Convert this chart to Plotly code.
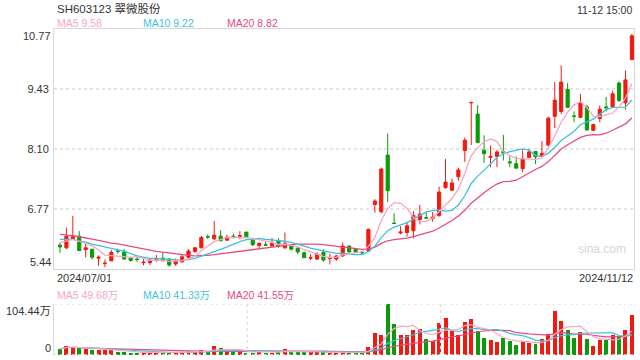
import plotly.graph_objects as go
import pandas as pd

# ---------------- data ----------------
title_text = "SH603123 翠微股份"
timestamp_text = "11-12 15:00"
date_labels = ["2024/07/01", "2024/11/12"]
price_tick_vals = [10.77, 9.43, 8.10, 6.77, 5.44]
vol_tick_vals = [104.44, 0]
vol_tick_text = ["104.44万", "0"]
ma_price_labels = ["MA5 9.58", "MA10 9.22", "MA20 8.82"]
ma_vol_labels = ["MA5 49.68万", "MA10 41.33万", "MA20 41.55万"]
watermark = "sina.com"

# closes of the 19 sessions before 2024/07/01 (estimated from the MA levels at the left edge)
prior_closes = [6.40, 6.45, 6.38, 6.30, 6.35, 6.28, 6.25, 6.30, 6.22, 6.27,
                6.20, 6.15, 6.22, 6.12, 6.16, 5.97, 6.01, 6.05, 6.17]

opens = [5.97, 5.91, 6.11, 6.17, 5.87, 5.88, 5.68, 5.56, 5.62, 5.84,
         5.82, 5.68, 5.66, 5.58, 5.58, 5.65, 5.68, 5.66, 5.55, 5.60,
         5.70, 5.83, 5.91, 6.16, 6.11, 6.17, 6.08, 6.17, 6.16, 6.26,
         6.08, 5.96, 5.98, 5.95, 6.07, 5.91, 5.97, 5.90, 5.80, 5.68,
         5.66, 5.81, 5.67, 5.66, 5.73, 5.95, 5.88, 5.81, 5.84, 6.87,
         6.71, 7.97, 6.46, 6.24, 6.25, 6.29, 6.54, 6.58, 6.56, 6.63,
         7.25, 7.19, 7.49, 8.07, 9.13, 8.88, 8.08, 7.92, 7.94, 8.05,
         7.82, 7.78, 7.67, 7.92, 8.05, 7.94, 8.19, 8.83, 8.94, 9.43,
         8.84, 8.81, 9.04, 8.52, 8.78, 9.04, 9.04, 9.57, 9.13, 10.09]
highs = [6.02, 6.36, 6.62, 6.28, 6.00, 5.88, 5.74, 5.65, 5.86, 5.89,
         5.88, 5.71, 5.71, 5.66, 5.68, 5.75, 5.81, 5.69, 5.67, 5.77,
         5.88, 5.93, 6.17, 6.21, 6.51, 6.30, 6.20, 6.22, 6.28, 6.26,
         6.11, 6.03, 6.05, 6.13, 6.12, 6.25, 6.00, 5.95, 5.83, 5.77,
         5.81, 5.88, 5.78, 5.75, 6.03, 5.96, 5.90, 5.84, 6.34, 6.99,
         7.69, 8.45, 6.68, 6.39, 6.49, 6.73, 6.86, 6.71, 6.71, 7.27,
         7.88, 7.45, 7.69, 8.36, 9.14, 9.08, 8.41, 8.18, 8.08, 8.42,
         7.94, 7.94, 8.08, 8.10, 8.05, 8.28, 8.82, 9.59, 9.96, 9.57,
         8.94, 9.33, 9.09, 8.65, 9.07, 9.26, 9.40, 9.61, 9.85, 10.66]
lows = [5.80, 5.88, 6.11, 5.85, 5.70, 5.65, 5.51, 5.48, 5.62, 5.78,
        5.65, 5.60, 5.60, 5.52, 5.53, 5.60, 5.61, 5.49, 5.51, 5.58,
        5.68, 5.80, 5.90, 6.11, 6.09, 6.05, 6.08, 6.12, 6.10, 6.12,
        5.95, 5.89, 5.95, 5.94, 5.91, 5.89, 5.85, 5.77, 5.69, 5.64,
        5.64, 5.60, 5.54, 5.62, 5.71, 5.80, 5.80, 5.75, 5.84, 6.69,
        6.68, 6.93, 6.44, 6.21, 6.16, 6.12, 6.43, 6.56, 6.49, 6.60,
        7.22, 7.18, 7.40, 7.82, 8.19, 8.23, 7.80, 7.70, 7.70, 7.85,
        7.70, 7.68, 7.59, 7.92, 7.77, 7.92, 8.17, 8.57, 8.88, 9.02,
        8.70, 8.79, 8.51, 8.51, 8.70, 8.94, 9.02, 9.15, 8.98, 10.09]
closes = [5.93, 6.17, 6.16, 5.85, 5.91, 5.70, 5.70, 5.57, 5.81, 5.83,
          5.66, 5.63, 5.65, 5.59, 5.64, 5.66, 5.62, 5.53, 5.62, 5.71,
          5.84, 5.91, 6.14, 6.15, 6.19, 6.07, 6.15, 6.16, 6.18, 6.14,
          5.98, 6.01, 5.97, 6.02, 5.94, 6.01, 5.88, 5.82, 5.69, 5.69,
          5.77, 5.64, 5.68, 5.73, 5.95, 5.82, 5.82, 5.80, 6.32, 6.95,
          7.66, 7.18, 6.45, 6.26, 6.40, 6.63, 6.66, 6.57, 6.59, 7.15,
          7.37, 7.35, 7.64, 8.30, 9.14, 8.25, 8.00, 7.94, 8.04, 8.02,
          7.80, 7.68, 7.89, 8.04, 7.93, 8.01, 8.79, 9.19, 9.59, 9.03,
          8.83, 9.13, 8.53, 8.65, 8.99, 9.02, 9.33, 9.18, 9.64, 10.62]
# volume in 万 (10k shares)
volumes = [12.3, 18.4, 15.7, 15.7, 13.0, 10.2, 10.2, 10.2, 9.6, 6.1,
           6.1, 4.8, 4.8, 6.1, 4.8, 4.8, 4.8, 4.8, 6.1, 6.1,
           8.2, 6.1, 9.6, 8.2, 18.4, 15.0, 6.1, 8.2, 8.2, 4.8,
           4.8, 8.2, 4.8, 4.8, 6.1, 12.3, 8.2, 6.8, 6.1, 6.1,
           6.1, 5.5, 4.8, 4.8, 6.8, 5.5, 4.8, 4.8, 16.4, 45.0,
           41.0, 104.44, 63.5, 41.0, 41.0, 52.0, 53.2, 32.8, 28.7, 65.5,
           76.5, 49.8, 41.0, 68.3, 73.7, 49.8, 35.5, 31.4, 27.3, 35.5,
           29.4, 20.5, 27.3, 24.6, 23.2, 32.8, 42.3, 90.1, 70.3, 51.9,
           35.5, 47.8, 32.8, 19.1, 31.4, 31.4, 41.0, 38.2, 51.9, 81.9]

# ---------------- styling ----------------
RED = "#f01a10"
GREEN = "#0a9b0a"
C_MA5 = "#f6a6c3"
C_MA10 = "#3fc1dd"
C_MA20 = "#e84a80"
FRAME = "#d8d8d8"
GRID = "#e3e3e3"
TXT = "#333333"
FONT = "Arial, 'Liberation Sans', 'Noto Sans CJK SC', sans-serif"
W, H = 640, 360


def px(x):
    return x / W


def py(y):
    return 1 - y / H


n = len(closes)
idx = list(range(n))
all_close = pd.Series(prior_closes + closes)
ma5 = all_close.rolling(5).mean().iloc[len(prior_closes):].tolist()
ma10 = all_close.rolling(10).mean().iloc[len(prior_closes):].tolist()
ma20 = all_close.rolling(20).mean().iloc[len(prior_closes):].tolist()
vs = pd.Series(volumes)
vma5 = vs.rolling(5, min_periods=1).mean().tolist()
vma10 = vs.rolling(10, min_periods=1).mean().tolist()
vma20 = vs.rolling(20, min_periods=1).mean().tolist()
bar_colors = [RED if c >= o else GREEN for o, c in zip(opens, closes)]

fig = go.Figure()
fig.add_trace(go.Candlestick(
    x=idx, open=opens, high=highs, low=lows, close=closes,
    increasing=dict(line=dict(color=RED, width=1), fillcolor=RED),
    decreasing=dict(line=dict(color=GREEN, width=1), fillcolor=GREEN),
    whiskerwidth=0, xaxis="x", yaxis="y", showlegend=False, hoverinfo="skip"))
for vals, col in [(ma20, C_MA20), (ma10, C_MA10), (ma5, C_MA5)]:
    fig.add_trace(go.Scatter(x=idx, y=vals, mode="lines", line=dict(color=col, width=1.3),
                             xaxis="x", yaxis="y", showlegend=False, hoverinfo="skip"))

fig.add_trace(go.Bar(x=idx, y=volumes, marker=dict(color=bar_colors, line=dict(width=0)),
                     width=0.62, xaxis="x2", yaxis="y2", showlegend=False, hoverinfo="skip"))
for vals, col in [(vma20, C_MA20), (vma10, C_MA10), (vma5, C_MA5)]:
    fig.add_trace(go.Scatter(x=idx, y=vals, mode="lines", line=dict(color=col, width=1.2),
                             xaxis="x2", yaxis="y2", showlegend=False, hoverinfo="skip"))

xdom = [px(54), px(634)]
xr = [-0.93, n - 1 + 0.33]

annotations = [
    dict(text=title_text, x=px(55), y=py(8.5), xref="paper", yref="paper", xanchor="left",
         yanchor="middle", showarrow=False, font=dict(size=11.5, color=TXT, family=FONT)),
    dict(text=timestamp_text, x=px(634), y=py(10), xref="paper", yref="paper", xanchor="right",
         yanchor="middle", showarrow=False, font=dict(size=10.5, color=TXT, family=FONT)),
    dict(text=date_labels[0], x=px(55), y=py(277.5), xref="paper", yref="paper", xanchor="left",
         yanchor="middle", showarrow=False, font=dict(size=11, color=TXT, family=FONT)),
    dict(text=date_labels[1], x=px(635), y=py(277.5), xref="paper", yref="paper", xanchor="right",
         yanchor="middle", showarrow=False, font=dict(size=11, color=TXT, family=FONT)),
    dict(text=watermark, x=px(602), y=py(249), xref="paper", yref="paper", xanchor="center",
         yanchor="middle", showarrow=False, font=dict(size=12, color="#d6d6d6", family=FONT)),
    dict(text=f"{price_tick_vals[0]:.2f}", x=px(52), y=price_tick_vals[0], xref="paper", yref="y",
         xanchor="right", yanchor="top", showarrow=False, borderpad=0,
         font=dict(size=11, color=TXT, family=FONT)),
    dict(text=f"{price_tick_vals[-1]:.2f}", x=px(52), y=price_tick_vals[-1], xref="paper", yref="y",
         xanchor="right", yanchor="bottom", showarrow=False, borderpad=0,
         font=dict(size=11, color=TXT, family=FONT)),
    dict(text=vol_tick_text[0], x=px(52), y=vol_tick_vals[0], xref="paper", yref="y2",
         xanchor="right", yanchor="top", showarrow=False, borderpad=0,
         font=dict(size=11, color=TXT, family=FONT)),
    dict(text=vol_tick_text[1], x=px(52), y=vol_tick_vals[1], xref="paper", yref="y2",
         xanchor="right", yanchor="bottom", showarrow=False, borderpad=0,
         font=dict(size=11, color=TXT, family=FONT)),
]
for lab, col, xx in zip(ma_price_labels, [C_MA5, C_MA10, C_MA20], [55, 140.5, 225.3]):
    annotations.append(dict(text=lab, x=px(xx), y=py(22.5), xref="paper", yref="paper",
                            xanchor="left", yanchor="middle", showarrow=False,
                            font=dict(size=10.5, color=col, family=FONT)))
for lab, col, xx in zip(ma_vol_labels, [C_MA5, C_MA10, C_MA20], [55, 140.5, 225.3]):
    annotations.append(dict(text=lab, x=px(xx), y=py(294.5), xref="paper", yref="paper",
                            xanchor="left", yanchor="middle", showarrow=False,
                            font=dict(size=10.5, color=col, family=FONT)))

dot = dict(color=GRID, width=1.5, dash="3px,3px")
shapes = [
    dict(type="line", xref="x2 domain", yref="y2", x0=0, x1=1, y0=vol_tick_vals[0], y1=vol_tick_vals[0], line=dot),
    dict(type="line", xref="x2 domain", yref="y2", x0=0, x1=1, y0=0, y1=0, line=dot),
    dict(type="line", xref="x2 domain", yref="y2 domain", x0=1/3, x1=1/3, y0=0, y1=1, line=dot),
    dict(type="line", xref="x2 domain", yref="y2 domain", x0=2/3, x1=2/3, y0=0, y1=1, line=dot),
]

fig.update_layout(
    width=W, height=H, margin=dict(l=0, r=0, t=0, b=0),
    paper_bgcolor="white", plot_bgcolor="white",
    font=dict(family=FONT, size=11, color=TXT),
    showlegend=False, bargap=0,
    xaxis=dict(domain=xdom, range=xr, showticklabels=False, showgrid=False, zeroline=False,
               showline=True, mirror=True, linecolor=FRAME, linewidth=1, ticks="",
               rangeslider=dict(visible=False), anchor="y", fixedrange=True),
    yaxis=dict(domain=[py(269), py(29)], range=[price_tick_vals[-1], price_tick_vals[0]],
               tickvals=price_tick_vals[1:-1], ticktext=[f"{v:.2f}" for v in price_tick_vals[1:-1]],
               showgrid=True, gridcolor=GRID, griddash="3px,3px", gridwidth=1.5, zeroline=False,
               showline=True, mirror=True, linecolor=FRAME, linewidth=1, ticks="",
               tickfont=dict(size=11, color=TXT, family=FONT), anchor="x", fixedrange=True,
               ticklabelstandoff=2),
    xaxis2=dict(domain=xdom, range=xr, showticklabels=False, showgrid=False, zeroline=False,
                showline=False, ticks="", anchor="y2", fixedrange=True),
    yaxis2=dict(domain=[py(355), py(304)], range=[0, vol_tick_vals[0]], showticklabels=False,
                showgrid=False, zeroline=False, showline=True, linecolor=FRAME, linewidth=1,
                ticks="", anchor="x2", fixedrange=True),
    annotations=annotations, shapes=shapes,
)

fig.write_html("out.html")
